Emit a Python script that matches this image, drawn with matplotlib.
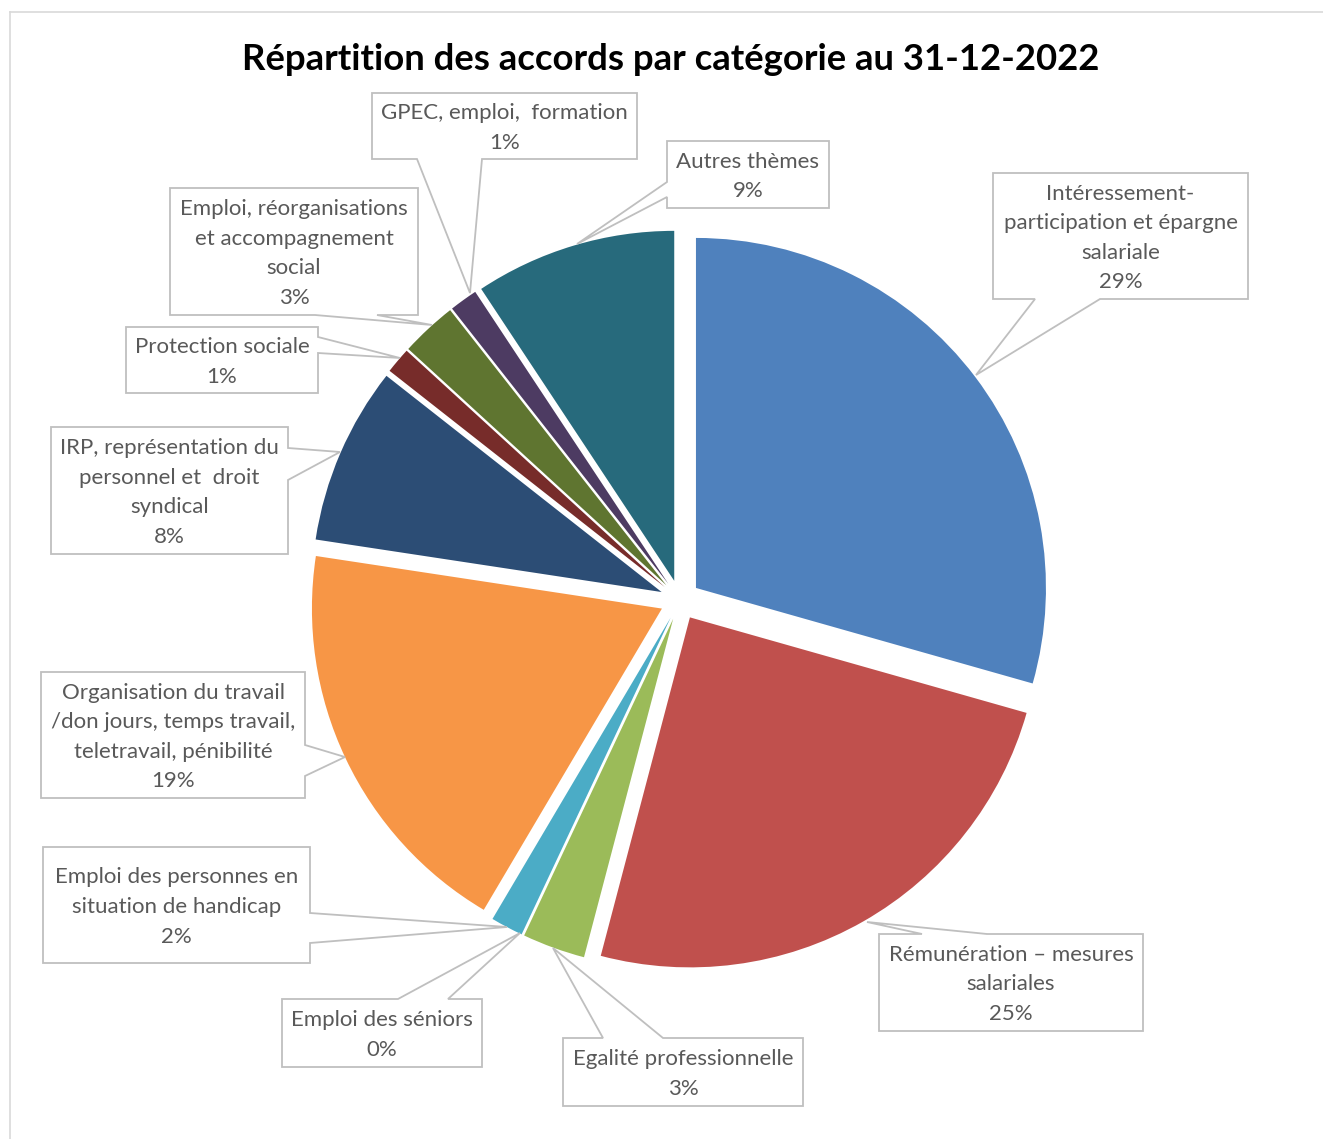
import matplotlib
matplotlib.use("Agg")
import matplotlib.pyplot as plt
from matplotlib.patches import Polygon
from matplotlib.lines import Line2D

# ---- data ----
categories = [
    "Intéressement-\nparticipation et épargne\nsalariale",
    "Rémunération – mesures\nsalariales",
    "Egalité professionnelle",
    "Emploi des séniors",
    "Emploi des personnes en\nsituation de handicap",
    "Organisation du travail\n/don jours, temps travail,\nteletravail, pénibilité",
    "IRP, représentation du\npersonnel et  droit\nsyndical",
    "Protection sociale",
    "Emploi, réorganisations\net accompagnement\nsocial",
    "GPEC, emploi,  formation",
    "Autres thèmes",
]
shares = [29.4, 24.7, 2.9, 0.0, 1.5, 18.9, 8.2, 1.2, 2.6, 1.3, 9.3]
colors = ["#4F81BD", "#C0504D", "#9BBB59", "#8064A2", "#4BACC6", "#F79646",
          "#2C4D75", "#772C2A", "#5F7530", "#4D3B62", "#276A7C"]
title = "Répartition des accords par catégorie au 31-12-2022"

W, H = 1323, 1139
fig = plt.figure(figsize=(W / 100, H / 100), dpi=100)
ax = fig.add_axes([0, 0, 1, 1])

def Y(y):
    return H - y

CX, CY, R = 680, 600, 350
ax.pie(shares, colors=colors, startangle=90, counterclock=False,
       center=(CX, Y(CY)), radius=R, explode=[20] * len(shares),
       wedgeprops=dict(linewidth=0))
ax.set_xlim(0, W)
ax.set_ylim(0, H)
ax.set_aspect("auto")
ax.axis("off")

# frame of chart area (top and left visible)
fig.add_artist(Line2D([10 / W, 1], [Y(12) / H, Y(12) / H], color="#D9D9D9", lw=1.2))
fig.add_artist(Line2D([10 / W, 10 / W], [0, Y(12) / H], color="#D9D9D9", lw=1.2))

ax.text(671, Y(59), title, ha="center", va="center", fontsize=26.3,
        fontweight="bold", family="Lato", color="black")

# callout boxes: (left, top, right, bottom), side, base1, base2, tip (image px)
callouts = [
    ((993, 173, 1248, 299), "bottom", 1035, 1100, (976, 375)),
    ((879, 934, 1143, 1031), "top", 922, 987, (867, 922)),
    ((563, 1038, 803, 1106), "top", 603, 663, (553, 948)),
    ((282, 999, 482, 1067), "top", 398, 448, (520, 933)),
    ((43, 847, 310, 963), "right", 913, 943, (507, 927)),
    ((41, 672, 305, 798), "right", 745, 776, (345, 757)),
    ((51, 427, 288, 554), "right", 448, 480, (340, 452)),
    ((126, 327, 318, 393), "right", 337, 353, (400, 358)),
    ((170, 188, 418, 315), "bottom", 315, 377, (432, 325)),
    ((372, 93, 637, 159), "bottom", 417, 482, (470, 293)),
    ((667, 141, 829, 208), "left", 182, 197, (577, 244)),
]

for name, v, (box, side, b1, b2, tip) in zip(categories, shares, callouts):
    l, t, r, b = box
    lo, hi = min(b1, b2), max(b1, b2)
    pts = [(l, t)]
    if side == "top":
        pts += [(lo, t), tip, (hi, t)]
    pts += [(r, t)]
    if side == "right":
        pts += [(r, lo), tip, (r, hi)]
    pts += [(r, b)]
    if side == "bottom":
        pts += [(hi, b), tip, (lo, b)]
    pts += [(l, b)]
    if side == "left":
        pts += [(l, hi), tip, (l, lo)]
    poly = Polygon([(x, Y(y)) for x, y in pts], closed=True, facecolor="white",
                   edgecolor="#BFBFBF", linewidth=1.3, zorder=5)
    ax.add_patch(poly)
    ax.text((l + r) / 2, Y((t + b) / 2 + 2), f"{name}\n{round(v)}%", ha="center",
            va="center", fontsize=16, family="Lato", color="#595959",
            linespacing=1.6, zorder=6)

fig.savefig("out.png", dpi=100, facecolor="white")
